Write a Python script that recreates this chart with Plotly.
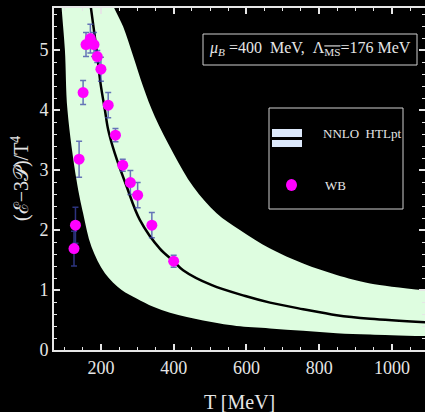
import plotly.graph_objects as go

# --- data ---
T_lower = [89, 92, 101, 108, 133, 151, 174, 211, 257, 298, 344, 390, 436, 481, 527, 573, 665, 756, 848, 940, 1100]
y_lower = [6.0, 5.7, 5.0, 4.0, 2.83, 2.28, 1.72, 1.28, 1.0, 0.86, 0.72, 0.62, 0.55, 0.49, 0.44, 0.40, 0.36, 0.32, 0.28, 0.26, 0.23]

T_upper = [213, 238, 261, 289, 316, 348, 399, 454, 518, 582, 665, 756, 848, 940, 1100]
y_upper = [6.0, 5.68, 5.39, 4.89, 4.39, 3.89, 3.28, 2.72, 2.28, 2.0, 1.69, 1.44, 1.25, 1.11, 0.99]

T_center = [166, 173, 188, 199, 211, 220, 238, 271, 307, 362, 400, 426, 505, 597, 665, 756, 848, 940, 1100]
y_center = [6.0, 5.68, 5.0, 4.44, 4.0, 3.67, 3.28, 2.72, 2.17, 1.69, 1.48, 1.33, 1.08, 0.9, 0.79, 0.68, 0.58, 0.52, 0.46]

T_wb = [126, 130, 140, 151, 159, 171, 181, 190, 200, 220, 240, 260, 281, 301, 340, 400]
y_wb = [1.69, 2.08, 3.18, 4.29, 5.09, 5.19, 5.09, 4.89, 4.68, 4.08, 3.58, 3.08, 2.79, 2.58, 2.08, 1.48]
err_wb = [0.29, 0.3, 0.3, 0.2, 0.2, 0.24, 0.2, 0.1, 0.2, 0.21, 0.11, 0.1, 0.2, 0.21, 0.21, 0.1]

x_ticks = [200, 400, 600, 800, 1000]
y_ticks = [0, 1, 2, 3, 4, 5]

FONT = "Liberation Serif"
FG = "#e6e6e6"
BAND = "#defde0"

fig = go.Figure()
fig.add_trace(go.Scatter(x=T_lower, y=y_lower, mode="lines", line=dict(color=BAND, width=0, shape="spline"),
                         showlegend=False, hoverinfo="skip"))
fig.add_trace(go.Scatter(x=T_upper, y=y_upper, mode="lines", line=dict(color=BAND, width=0, shape="spline"),
                         fill="tonexty", fillcolor=BAND, showlegend=False, hoverinfo="skip"))
fig.add_trace(go.Scatter(x=T_center, y=y_center, mode="lines", line=dict(color="black", width=2.5, shape="spline"),
                         showlegend=False))
fig.add_trace(go.Scatter(x=T_wb, y=y_wb, mode="markers",
                         marker=dict(color="#ff00ff", size=11, line=dict(width=0)),
                         error_y=dict(type="data", array=err_wb, color="rgba(60,70,170,0.75)", thickness=1.5, width=3),
                         showlegend=False))

# legend (drawn manually)
def px(x):
    return (x - 54) / 371
def py(y):
    return (350 - y) / 342

shapes = [
    dict(type="rect", xref="paper", yref="paper", x0=px(269), x1=px(403), y0=py(209), y1=py(108),
         line=dict(color="#cfcfcf", width=1), fillcolor="black", layer="above"),
    dict(type="rect", xref="paper", yref="paper", x0=px(272), x1=px(302), y0=py(137), y1=py(129),
         line=dict(width=0), fillcolor="#dde9fb", layer="above"),
    dict(type="rect", xref="paper", yref="paper", x0=px(272), x1=px(302), y0=py(147), y1=py(140),
         line=dict(width=0), fillcolor="#dde9fb", layer="above"),
    dict(type="circle", xref="paper", yref="paper", x0=px(286), x1=px(297), y0=py(191), y1=py(179),
         line=dict(width=0), fillcolor="#ff00ff", layer="above"),
    dict(type="rect", xref="paper", yref="paper", x0=px(203), x1=px(417), y0=py(65), y1=py(34),
         line=dict(color="#cfcfcf", width=1), fillcolor="black", layer="above"),
]

annotations = [
    dict(xref="paper", yref="paper", x=px(321), y=py(133), text="NNLO  HTLpt", showarrow=False,
         xanchor="left", yanchor="middle", font=dict(family=FONT, size=13, color=FG)),
    dict(xref="paper", yref="paper", x=px(323), y=py(185), text="WB", showarrow=False,
         xanchor="left", yanchor="middle", font=dict(family=FONT, size=13, color=FG)),
    dict(xref="paper", yref="paper", x=px(310), y=py(49), showarrow=False,
         text=("<i>μ</i><sub><i>B</i></sub> =400  MeV,  Λ"
               "<sub><span style=\"text-decoration:overline\">MS</span></sub>=176 MeV"),
         xanchor="center", yanchor="middle", font=dict(family=FONT, size=16, color=FG)),
    dict(xref="paper", yref="paper", x=px(20), y=0.5, showarrow=False, textangle=-90,
         text="(ℰ−3𝒫)/T<sup>4</sup>", xanchor="center", yanchor="middle",
         font=dict(family=FONT, size=20, color=FG)),
    dict(xref="paper", yref="paper", x=0.501, y=py(402), showarrow=False, text="T [MeV]",
         xanchor="center", yanchor="middle", font=dict(family=FONT, size=20, color=FG)),
]

axis_common = dict(showline=True, linecolor=FG, linewidth=2, mirror="ticks", ticks="inside",
                   ticklen=6, tickwidth=1.5, tickcolor=FG, showgrid=False, zeroline=False,
                   automargin=False, tickfont=dict(family=FONT, size=18, color=FG))

fig.update_layout(
    width=425, height=412,
    margin=dict(l=54, r=0, t=8, b=62, autoexpand=False),
    paper_bgcolor="black", plot_bgcolor="black",
    xaxis=dict(range=[71, 1091], tickvals=x_ticks,
               minor=dict(dtick=50, ticklen=3, ticks="inside", tickcolor=FG, tickwidth=1), **axis_common),
    yaxis=dict(range=[0, 5.7], tickvals=y_ticks,
               minor=dict(dtick=0.2, ticklen=3, ticks="inside", tickcolor=FG, tickwidth=1), **axis_common),
    shapes=shapes, annotations=annotations, showlegend=False,
)

fig.write_html("out.html", config={"displayModeBar": False},
               post_script="document.body.style.margin='0';document.body.style.background='black';"
                           "document.body.style.overflow='hidden';")
